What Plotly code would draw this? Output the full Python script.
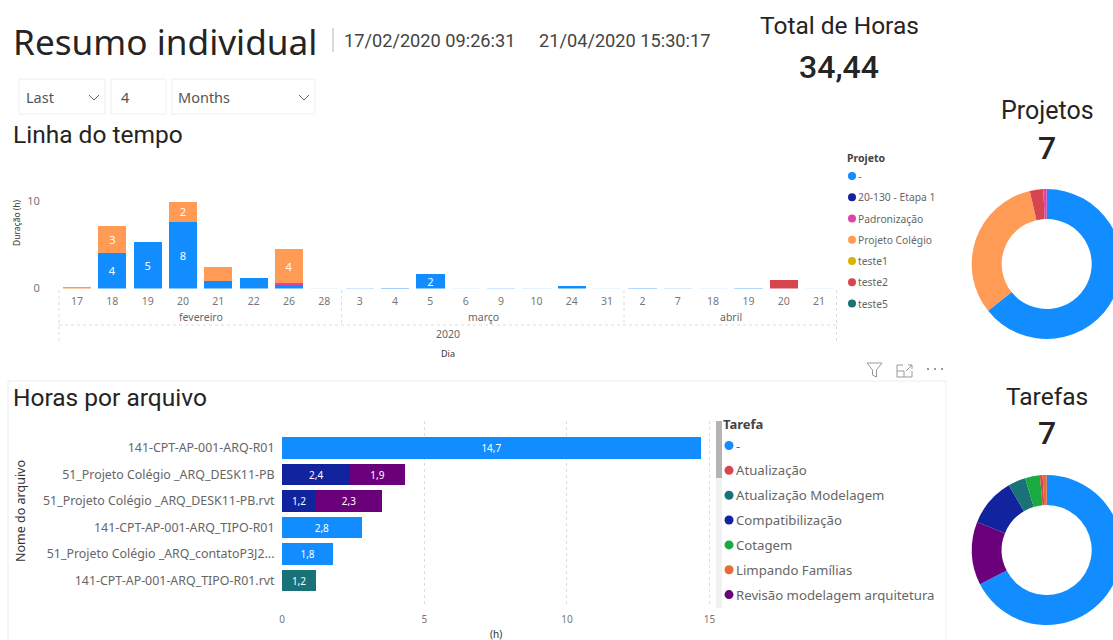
import plotly.graph_objects as go

# ---------- data ----------
months = ["fevereiro", "março", "abril"]
month_days = [[17, 18, 19, 20, 21, 22, 26, 28], [3, 4, 5, 6, 9, 10, 24, 31], [2, 7, 18, 19, 20, 21]]
year_label = "2020"

proj_blue = [0, 4.1, 5.4, 7.6, 0.9, 1.25, 0.35, 0.02, 0.05, 0.1, 1.65, 0.02, 0.05, 0.03, 0.3, 0.02, 0.08, 0.04, 0.02, 0.08, 0, 0.02]
proj_pink = [0, 0, 0, 0, 0, 0, 0.25, 0, 0, 0, 0, 0, 0, 0, 0, 0, 0, 0, 0, 0, 0, 0]
proj_orange = [0.2, 3.1, 0, 2.4, 1.55, 0, 3.9, 0, 0, 0, 0, 0, 0, 0, 0, 0, 0, 0, 0, 0, 0, 0]
proj_red = [0, 0, 0, 0, 0, 0, 0, 0, 0, 0, 0, 0, 0, 0, 0, 0, 0, 0, 0, 0, 1.0, 0]

files = ["141-CPT-AP-001-ARQ-R01", "51_Projeto Colégio _ARQ_DESK11-PB", "51_Projeto Colégio _ARQ_DESK11-PB.rvt",
         "141-CPT-AP-001-ARQ_TIPO-R01", "51_Projeto Colégio _ARQ_contatoP3J2...", "141-CPT-AP-001-ARQ_TIPO-R01.rvt"]
file_blue = [14.7, None, None, 2.8, 1.8, None]
file_navy = [None, 2.4, 1.2, None, None, None]
file_purple = [None, 1.9, 2.3, None, None, None]
file_teal = [None, None, None, None, None, 1.2]

legend_proj = ["-", "20-130 - Etapa 1", "Padronização", "Projeto Colégio", "teste1", "teste2", "teste5"]
legend_proj_colors = ["#118DFF", "#12239E", "#E044A7", "#FF9B54", "#D9B300", "#D64550", "#197278"]
legend_task = ["-", "Atualização", "Atualização Modelagem", "Compatibilização", "Cotagem", "Limpando Famílias", "Revisão modelagem arquitetura"]
legend_task_colors = ["#118DFF", "#D64550", "#197278", "#12239E", "#1AAB40", "#E66C37", "#6B007B"]

donut_proj_labels = ["-", "Projeto Colégio", "teste2", "Padronização"]
donut_proj_values = [22.14, 11.05, 1.0, 0.25]
donut_proj_colors = ["#118DFF", "#FF9B54", "#D64550", "#E044A7"]
donut_task_labels = ["-", "Revisão modelagem arquitetura", "Compatibilização", "Atualização Modelagem", "Cotagem", "Atualização", "Limpando Famílias"]
donut_task_values = [23.2, 4.7, 3.6, 1.3, 1.1, 0.2, 0.3]
donut_task_colors = ["#118DFF", "#6B007B", "#12239E", "#197278", "#1AAB40", "#D64550", "#E66C37"]

# ---------- layout helpers (pixels of the page -> paper) ----------
W, H = 1130, 640
px = lambda x: x / W
py = lambda y: 1 - y / H
HEAD = "Roboto"
BODY = "Noto Sans"
GRID = "#dcdcdc"

annotations, shapes = [], []

def label(x, y, text, size, color="#252423", anchor="left", family=BODY, angle=0, weight=None):
    font = dict(size=size, color=color, family=family)
    if weight:
        font["weight"] = weight
    annotations.append(dict(x=px(x - 1 if anchor == "left" else x), y=py(y), xref="paper", yref="paper", text=text,
                            showarrow=False, xanchor=anchor, yanchor="middle", textangle=angle, borderpad=0, font=font))

def rect(x0, y0, x1, y1, line=None, fill=None, width=1):
    shapes.append(dict(type="rect", xref="paper", yref="paper", x0=px(x0), x1=px(x1), y0=py(y0), y1=py(y1),
                       line=dict(color=line or "rgba(0,0,0,0)", width=width), fillcolor=fill or "rgba(0,0,0,0)", layer="below"))

def seg(x0, y0, x1, y1, color=GRID, dash="dot", width=1):
    shapes.append(dict(type="line", xref="paper", yref="paper", x0=px(x0), x1=px(x1), y0=py(y0), y1=py(y1),
                       line=dict(color=color, dash=dash, width=width)))

def dot(cx, cy, r, color):
    shapes.append(dict(type="circle", xref="paper", yref="paper", x0=px(cx - r), x1=px(cx + r), y0=py(cy - r), y1=py(cy + r),
                       line=dict(width=0), fillcolor=color))

def poly(points, color="#666666", width=1, close=False):
    d = "M " + " L ".join(f"{px(a):.5f} {py(b):.5f}" for a, b in points) + (" Z" if close else "")
    shapes.append(dict(type="path", xref="paper", yref="paper", path=d, line=dict(color=color, width=width)))

# ---------- timeline ----------
x_keys, x_days, month_idx = [], [], []
for m, days in zip(months, month_days):
    start = len(x_keys)
    for d in days:
        x_keys.append(f"{m} {d}")
        x_days.append(str(d))
    month_idx.append((m, start, len(x_keys) - 1))

def day_text(vals):
    return [str(round(v)) if v >= 1.6 else "" for v in vals]

fig = go.Figure()
for name, vals, col in [("-", proj_blue, "#118DFF"), ("Padronização", proj_pink, "#E044A7"),
                        ("Projeto Colégio", proj_orange, "#FF9B54"), ("teste2", proj_red, "#D64550")]:
    # slivers under one pixel are drawn faint, as an antialiased hairline would be
    fades = [min(1, v * 8) for v in vals]
    fig.add_trace(go.Bar(x=x_keys, y=vals, name=name, marker=dict(color=col, line=dict(width=0), opacity=fades),
                         text=day_text(vals), textposition="inside", insidetextanchor="middle", textangle=0,
                         constraintext="none", insidetextfont=dict(size=11, color="white", family=BODY),
                         xaxis="x", yaxis="y", showlegend=False))

for name, vals, col in [("-", file_blue, "#118DFF"), ("Compatibilização", file_navy, "#12239E"),
                        ("Revisão modelagem arquitetura", file_purple, "#6B007B"),
                        ("Atualização Modelagem", file_teal, "#197278")]:
    fig.add_trace(go.Bar(y=files, x=vals, name=name, orientation="h", marker=dict(color=col, line=dict(width=0)),
                         text=[None if v is None else f"{v:.1f}".replace(".", ",") for v in vals],
                         textposition="inside", insidetextanchor="middle", textangle=0, constraintext="none",
                         insidetextfont=dict(size=10, color="white", family=BODY),
                         xaxis="x2", yaxis="y2", showlegend=False))

def donut(labels, values, colors, cx, cy, r=75):
    fig.add_trace(go.Pie(labels=labels, values=values, hole=0.6, sort=False, direction="clockwise", rotation=0,
                         marker=dict(colors=colors, line=dict(width=0)), textinfo="none", showlegend=False,
                         domain=dict(x=[px(cx - r), px(cx + r)], y=[py(cy + r), py(cy - r)])))

donut(donut_proj_labels, donut_proj_values, donut_proj_colors, 1046.7, 264)
donut(donut_task_labels, donut_task_values, donut_task_colors, 1046.7, 550)

# ---------- header text ----------
label(13, 41.5, "Resumo individual", 35.2, family=BODY)
seg(333, 28, 333, 52, color="#b5b5b5", dash="solid")
label(344, 40, "17/02/2020 09:26:31", 18.2, color="#444444", family=HEAD)
label(539, 40, "21/04/2020 15:30:17", 18.2, color="#444444", family=HEAD)
label(839, 25, "Total de Horas", 24.5, anchor="center", family=HEAD)
label(839, 67, "34,44", 32, anchor="center", family=HEAD, weight=500)
label(1047, 110, "Projetos", 25, anchor="center", family=HEAD)
label(1047, 148, "7", 32, anchor="center", family=HEAD, weight=500)
label(1047, 396, "Tarefas", 24.5, anchor="center", family=HEAD)
label(1047, 433, "7", 32, anchor="center", family=HEAD, weight=500)
label(13, 134, "Linha do tempo", 24.5, family=HEAD)
label(13, 397, "Horas por arquivo", 24.5, family=HEAD)

# ---------- relative-date slicer ----------
for x0, x1 in [(19, 105), (111, 166), (172, 315)]:
    rect(x0, 79, x1, 114, line="#eeeeee")
label(26, 97, "Last", 14.5, color="#555555")
label(121, 97, "4", 14.5, color="#555555")
label(178, 97, "Months", 14.5, color="#555555")
poly([(89, 95), (94, 100), (99, 95)])
poly([(299, 95), (304, 100), (309, 95)])

# ---------- timeline decorations ----------
seg(59, 290, 59, 343)
seg(836.5, 290, 836.5, 343)
seg(341.5, 290, 341.5, 325)
seg(624, 290, 624, 325)
seg(59, 325, 836.5, 325)
for m, a, b in month_idx:
    annotations.append(dict(x=(a + b) / 2, y=py(317), xref="x", yref="paper", text=m, showarrow=False,
                            xanchor="center", yanchor="middle", font=dict(size=10.5, color="#666666", family=BODY)))
annotations.append(dict(x=(len(x_keys) - 1) / 2, y=py(334), xref="x", yref="paper", text=year_label, showarrow=False,
                        xanchor="center", yanchor="middle", font=dict(size=10.5, color="#666666", family=BODY)))
annotations.append(dict(x=(len(x_keys) - 1) / 2, y=py(353), xref="x", yref="paper", text="Dia", showarrow=False,
                        xanchor="center", yanchor="middle", font=dict(size=9, color="#333333", family=BODY)))
label(17, 223, "Duração (h)", 8.5, color="#333333", anchor="center", angle=-90)

# ---------- legends ----------
label(847, 158, "<b>Projeto</b>", 10.5, color="#444444")
for i, (t, c) in enumerate(zip(legend_proj, legend_proj_colors)):
    y = 176 + i * 21.25
    dot(852, y, 4, c)
    label(858, y, t, 10.3, color="#666666")

rect(716, 421, 722, 608, fill="#f1f1f1")
rect(716, 421, 722, 478, fill="#b4b4b4")
label(723, 424, "<b>Tarefa</b>", 13, color="#444444")
for i, (t, c) in enumerate(zip(legend_task, legend_task_colors)):
    y = 445.5 + i * 24.85
    dot(729, y, 4.5, c)
    label(736, y, t, 13.2, color="#666666")

# ---------- visual header icons and panel ----------
poly([(867, 363), (882, 363), (876.5, 370), (876.5, 377), (872.5, 375), (872.5, 370)], color="#999999", close=True)
poly([(903, 365), (897, 365), (897, 377), (912, 377), (912, 371)], color="#999999")
poly([(897, 371), (904, 371), (904, 377)], color="#999999")
poly([(906, 371), (912, 365)], color="#999999")
poly([(908, 365), (912, 365), (912, 369)], color="#999999")
for cx in (928, 935, 942):
    dot(cx, 369, 1, "#777777")
rect(8, 381, 946, 660, line="#eeeeee")

# ---------- second chart captions ----------
label(20, 511, "Nome do arquivo", 12.5, color="#333333", anchor="center", angle=-90)
label(496, 634, "(h)", 10, color="#333333", anchor="center")

fig.update_layout(
    width=W, height=H, autosize=False, margin=dict(l=0, r=0, t=0, b=0),
    paper_bgcolor="white", plot_bgcolor="white", barmode="stack", bargap=0.2,
    annotations=annotations, shapes=shapes, showlegend=False,
    font=dict(family=BODY),
    xaxis=dict(domain=[px(48), px(847)], anchor="y", type="category", range=[-0.82, 21.79],
               tickmode="array", tickvals=x_keys, ticktext=x_days, showgrid=False, zeroline=False, showline=False,
               ticks="outside", ticklen=3, tickcolor="rgba(0,0,0,0)", tickfont=dict(size=10.5, color="#777777", family=BODY),
               automargin=False),
    yaxis=dict(domain=[py(288.5), py(201.5)], anchor="x", range=[0, 10], tickvals=[0, 10],
               showgrid=True, gridcolor=GRID, griddash="dot", gridwidth=1, zeroline=False,
               ticks="outside", ticklen=5, tickcolor="rgba(0,0,0,0)", tickfont=dict(size=11, color="#777777", family=BODY),
               automargin=False, showline=False),
    xaxis2=dict(domain=[px(282), px(716)], anchor="y2", range=[0, 15.23], tickvals=[0, 5, 10, 15],
                showgrid=True, gridcolor=GRID, griddash="dot", gridwidth=1, zeroline=False, showline=False,
                ticks="outside", ticklen=3, tickcolor="rgba(0,0,0,0)", tickfont=dict(size=10, color="#777777", family=BODY),
                automargin=False),
    yaxis2=dict(domain=[py(607), py(421)], anchor="x2", type="category", categoryorder="array", categoryarray=files,
                range=[6.0, -1.02], showgrid=False, zeroline=False, showline=False,
                ticks="outside", ticklen=4, tickcolor="rgba(0,0,0,0)", tickfont=dict(size=12.4, color="#666666", family=BODY),
                automargin=False),
)

fig.write_html("out.html", config={"displayModeBar": False},
               post_script="document.body.style.margin='0';document.documentElement.style.overflow='hidden';document.body.style.overflow='hidden';")
